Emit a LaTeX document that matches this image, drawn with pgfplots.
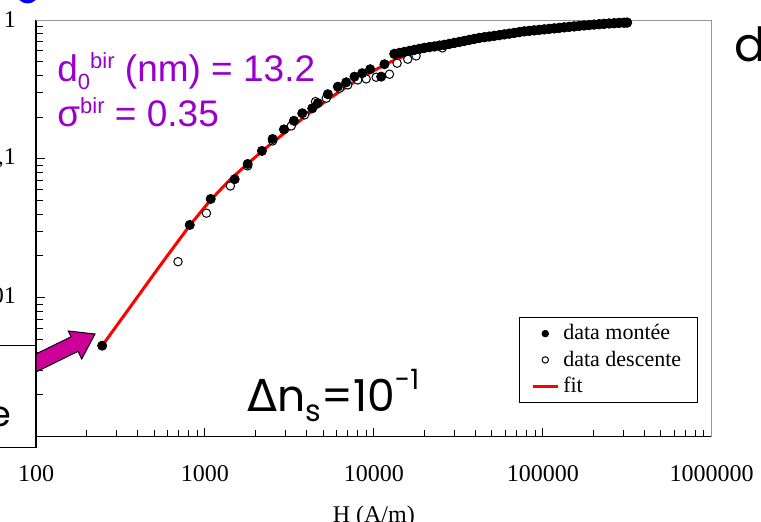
\documentclass[border=0pt]{standalone}
\usepackage{fontspec}
\setmainfont{Liberation Serif}
\newfontfamily\arialf{Liberation Sans}
\newfontfamily\comicf{Poppins}
\newfontfamily\dejavu{DejaVu Sans}
\usepackage{pgfplots}
\pgfplotsset{compat=1.18}
\definecolor{purp}{RGB}{153,0,204}
\definecolor{mag}{RGB}{204,0,153}
\definecolor{framegray}{RGB}{150,150,150}
\pgfplotstableread{
x y
13236 0.570
14168 0.579
15164 0.589
16232 0.599
17378 0.609
18600 0.619
19910 0.630
21310 0.638
22820 0.645
24420 0.654
26140 0.662
27980 0.673
29960 0.684
32060 0.695
34320 0.707
36730 0.719
39320 0.731
42090 0.743
45060 0.752
48220 0.760
51620 0.769
55250 0.778
59150 0.788
63310 0.798
67760 0.807
72530 0.818
77640 0.828
83110 0.835
88960 0.842
95220 0.849
101900 0.856
109100 0.863
116800 0.870
125000 0.877
133800 0.885
143200 0.892
153300 0.899
164100 0.907
175600 0.914
188000 0.920
201200 0.927
215400 0.933
230600 0.938
246800 0.944
264200 0.948
282800 0.953
302700 0.956
315300 0.958
}\bandtable
\begin{document}
\begin{tikzpicture}
\useasboundingbox (0,0) rectangle (380.5pt,-261pt);
\clip (0,0) rectangle (380.5pt,-261pt);
\begin{axis}[
  at={(18pt,-218.25pt)}, anchor=south west,
  scale only axis, width=337.85pt, height=208.25pt,
  xmode=log, ymode=log,
  xmin=100, xmax=1000000, ymin=0.001, ymax=1,
  axis lines*=left, axis line style={-, line width=0.65pt},
  tick align=inside, major tick length=4.5pt, minor tick length=3.5pt,
  tick style={black, line width=0.5pt},
  log ticks with fixed point,
  /pgf/number format/fixed,
  /pgf/number format/precision=3,
  /pgf/number format/use comma,
  /pgf/number format/1000 sep={},
  /pgf/number format/assume math mode=true,
  tick label style={font=\fontsize{12}{14}\selectfont},
  xticklabel style={yshift=-11pt},
  yticklabel style={xshift=-6.5pt},
  xlabel={H (A/m)},
  xlabel style={font=\fontsize{12}{14}\selectfont, at={(axis description cs:0.5,0)}, anchor=north, yshift=-31pt},
  legend style={at={(0.7145,0.287)}, anchor=north west, draw=black, line width=0.5pt, fill=white,
    font=\fontsize{11}{13}\selectfont, inner xsep=6pt, inner ysep=1.5pt, row sep=0pt, cells={anchor=west}},
  legend image code/.code={\draw[mark repeat=2,mark phase=2,#1] plot coordinates {(0pt,0pt) (6.25pt,0pt) (12.5pt,0pt)};},
  clip=false,
]
\addlegendimage{only marks, mark=*, mark size=1.6pt, black}
\addlegendentry{data montée}
\addlegendimage{only marks, mark=*, mark size=1.6pt, mark options={fill=white, draw=black, line width=0.5pt}}
\addlegendentry{data descente}
\addlegendimage{red, line width=1.5pt}
\addlegendentry{fit}

% fit
\addplot[red, line width=1.5pt, forget plot] coordinates {
(246.5,0.00451) (359.4,0.00850) (540.6,0.01692) (813,0.03313) (1068,0.04973) (1402,0.07047) (1840,0.09499) (2415,0.1260) (3171,0.1642) (4163,0.2141) (5465,0.2724) (7175,0.3408) (9419,0.4157) (12370,0.4948) (16230,0.5698) (21310,0.6347) (32060,0.7129) (55250,0.788) (109100,0.863) (215400,0.925) (315300,0.955)
};
% data descente
\addplot[only marks, mark=*, mark size=2.1pt, mark options={fill=white, draw=black, line width=0.5pt}, forget plot] coordinates {
(693,0.01817) (1021,0.0406) (1415,0.0638) (1791,0.0889) (2516,0.1346) (3245,0.1726) (3889,0.2072) (4516,0.2583) (5226,0.2733) (6261,0.3226) (7010,0.3408) (8034,0.3703) (9006,0.3765) (10318,0.3872) (12370,0.4068) (13730,0.4884) (15870,0.5219) (17780,0.5512) (25440,0.6295)
};
% data montee (low field)
\addplot[only marks, mark=*, mark size=2.3pt, black, forget plot] coordinates {
(246.5,0.00451) (813,0.0334) (1082,0.0514) (1500,0.0713) (1791,0.0918) (2175,0.114) (2516,0.139) (2935,0.163) (3363,0.188) (3768,0.213) (4317,0.231) (4659,0.252) (5340,0.292) (6120,0.331) (6860,0.356) (7680,0.391) (8530,0.414) (9510,0.442) (11050,0.391) (11550,0.480)
};
% data montee (dense high-field points)
\addplot[black, line width=4.3pt, line cap=round, forget plot] table[x=x, y=y] {\bandtable};
\addplot[only marks, mark=*, mark size=2.4pt, black, forget plot] table[x=x, y=y] {\bandtable};
\draw[framegray, line width=0.5pt] (rel axis cs:0,1) -- (rel axis cs:1,1) -- (rel axis cs:1,0);
\end{axis}
\begin{scope}[x=0.5pt, y=-0.5pt]
  % partial box at left
  \draw[line width=0.65pt, fill=white] (-5,345.7) rectangle (36,447.7);
  \node[anchor=base east, inner sep=0, font=\comicf\fontsize{17.5}{17.5}\selectfont] at (12,427) {e};
  % arrow
  \draw[fill=mag, line width=0.5pt, line join=miter] (36,354) -- (71.06,336.77) -- (68.3,331) -- (95,334) -- (81.7,359) -- (78.03,351.34) -- (36,372) -- cycle;
  % blue dot at top
  \fill[blue] (27.5,-8) circle (11.5);
  % parameters
  \node[anchor=base west, inner sep=0, text=purp, font=\arialf\fontsize{18.5}{18.5}\selectfont] at (57,82)
    {d\raisebox{-4pt}{\fontsize{11}{11}\selectfont 0}\raisebox{6.5pt}{\fontsize{11}{11}\selectfont bir} (nm) = 13.2};
  \node[anchor=base west, inner sep=0, text=purp, font=\arialf\fontsize{18.5}{18.5}\selectfont] at (57,127)
    {σ\raisebox{6.5pt}{\fontsize{11}{11}\selectfont bir} = 0.35};
  % Delta n_s
  \node[anchor=base west, inner sep=0, font=\comicf\fontsize{22}{22}\selectfont] at (247,412)
    {{\dejavu Δ}n\raisebox{-5pt}{\fontsize{15}{15}\selectfont s}=10\raisebox{11pt}{\fontsize{14}{14}\selectfont -1}};
  % panel letter
  \node[anchor=base west, inner sep=0, font=\comicf\fontsize{23.5}{23.5}\selectfont] at (734,62) {d};
\end{scope}
\end{tikzpicture}
\end{document}
